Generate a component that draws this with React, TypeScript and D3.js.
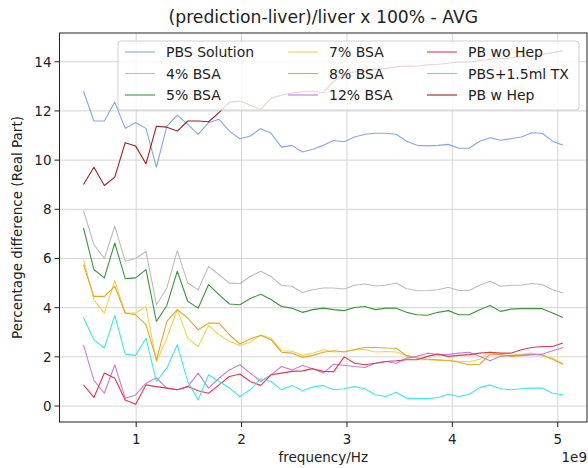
import React from 'react'
import * as d3 from 'd3'

// frequency in units of 1e9 Hz
const freqs = [
  0.5, 0.599, 0.698, 0.797, 0.896, 0.995, 1.093, 1.192, 1.291, 1.39, 1.489, 1.588,
  1.687, 1.786, 1.885, 1.984, 2.083, 2.182, 2.28, 2.379, 2.478, 2.577, 2.676, 2.775,
  2.874, 2.973, 3.072, 3.171, 3.27, 3.368, 3.467, 3.566, 3.665, 3.764, 3.863, 3.962,
  4.061, 4.16, 4.259, 4.358, 4.457, 4.555, 4.654, 4.753, 4.852, 4.951, 5.05,
]

const pbsSolution = [
  12.81, 11.59, 11.59, 12.36, 11.29, 11.53, 11.29, 9.71, 11.38, 11.83, 11.45, 11.05,
  11.52, 11.66, 11.18, 10.87, 10.98, 11.28, 11.09, 10.53, 10.6, 10.33, 10.44, 10.6,
  10.8, 10.75, 10.94, 11.05, 11.09, 11.09, 11.05, 10.77, 10.6, 10.58, 10.6, 10.64,
  10.48, 10.48, 10.77, 10.91, 10.81, 10.87, 10.94, 11.11, 11.09, 10.77, 10.6,
]
const bsa4 = [
  7.95, 6.57, 6.0, 7.31, 5.89, 6.0, 6.29, 4.12, 4.8, 6.32, 5.0, 4.73,
  5.68, 5.34, 5.0, 4.98, 5.27, 5.48, 5.27, 4.9, 4.87, 4.62, 4.73, 4.8,
  4.8, 4.76, 4.91, 4.96, 4.88, 4.91, 5.0, 4.77, 4.69, 4.7, 4.73, 4.83,
  4.7, 4.7, 4.91, 5.07, 4.87, 4.91, 4.91, 4.98, 4.94, 4.73, 4.6,
]
const bsa5 = [
  7.24, 5.55, 5.21, 6.63, 5.18, 5.21, 5.55, 3.44, 4.09, 5.48, 4.26, 3.98,
  4.94, 4.53, 4.15, 4.12, 4.37, 4.55, 4.33, 4.05, 3.98, 3.81, 3.92, 3.98,
  3.92, 3.88, 4.01, 4.05, 3.92, 3.98, 3.98, 3.81, 3.71, 3.69, 3.81, 3.88,
  3.71, 3.71, 3.92, 4.09, 3.85, 3.94, 3.96, 3.96, 3.96, 3.78, 3.6,
]
const bsa7 = [
  5.95, 4.32, 3.78, 5.1, 3.78, 3.78, 4.05, 1.81, 2.76, 3.92, 2.76, 2.42,
  3.28, 2.9, 2.63, 2.46, 2.6, 2.9, 2.76, 2.25, 2.23, 2.06, 2.15, 2.29,
  2.2, 2.22, 2.28, 2.3, 2.2, 2.22, 2.2, 2.05, 1.95, 1.88, 1.85, 1.85,
  1.82, 1.8, 1.9, 2.2, 2.08, 2.05, 2.1, 2.15, 2.05, 1.95, 1.72,
]
const bsa8 = [
  5.75, 4.46, 4.46, 4.87, 3.78, 3.71, 3.31, 1.88, 3.44, 3.92, 3.58, 3.1,
  3.37, 3.37, 2.9, 2.52, 2.74, 2.87, 2.7, 2.19, 2.15, 1.98, 2.06, 2.19,
  2.25, 2.2, 2.3, 2.38, 2.38, 2.36, 2.35, 2.05, 1.95, 1.9, 1.88, 1.85,
  1.78, 1.68, 1.7, 2.1, 2.1, 2.02, 2.05, 2.1, 2.08, 1.9, 1.7,
]
const bsa12 = [
  2.49, 1.04, 0.52, 1.68, 0.32, 0.45, 0.93, 1.15, 0.73, 0.66, 0.79, 1.34,
  0.73, 1.13, 1.47, 1.68, 1.34, 1.0, 1.27, 1.61, 1.47, 1.65, 1.52, 1.34,
  1.7, 1.66, 1.61, 1.57, 1.74, 1.81, 1.74, 1.95, 2.02, 2.15, 2.09, 2.1,
  2.15, 2.19, 2.02, 1.84, 2.02, 2.06, 2.06, 2.09, 2.11, 2.25, 2.38,
]
const pbWoHep = [
  0.86, 0.35, 1.34, 1.13, 0.25, 0.07, 0.86, 0.79, 0.73, 0.66, 0.79, 0.62,
  0.52, 0.86, 1.2, 1.3, 1.0, 0.84, 1.27, 1.34, 1.41, 1.43, 1.52, 1.41,
  1.4, 2.0, 1.74, 1.68, 1.74, 1.81, 1.84, 1.88, 1.88, 2.02, 2.11, 2.02,
  2.06, 2.09, 2.15, 2.19, 2.15, 2.15, 2.29, 2.38, 2.42, 2.42, 2.56,
]
const pbsTx = [
  3.6, 2.7, 2.36, 3.69, 2.11, 2.06, 2.76, 1.0, 1.54, 2.49, 1.0, 0.25,
  1.27, 1.0, 0.73, 0.39, 0.66, 1.11, 1.0, 0.66, 0.84, 0.62, 0.77, 0.84,
  0.66, 0.7, 0.79, 0.7, 0.46, 0.39, 0.56, 0.32, 0.3, 0.3, 0.35, 0.48,
  0.39, 0.48, 0.75, 0.86, 0.7, 0.66, 0.7, 0.73, 0.73, 0.52, 0.46,
]
const pbWHep = [
  9.01, 9.71, 8.97, 9.31, 10.71, 10.57, 9.85, 11.38, 11.34, 11.18, 11.59, 11.59,
  11.56, 11.93, 12.36, 12.4, 12.23, 12.06, 12.51, 12.65, 12.72, 12.78, 12.81, 12.74,
  13.2, 13.5, 13.58, 13.62, 13.7, 13.72, 13.8, 13.83, 13.82, 13.88, 13.9, 13.94,
  14.0, 13.98, 14.05, 14.1, 14.12, 14.15, 14.22, 14.25, 14.3, 14.37, 14.45,
]

const seriesNames = [
  'PBS Solution', '4% BSA', '5% BSA',
  '7% BSA', '8% BSA', '12% BSA',
  'PB wo Hep', 'PBS+1.5ml TX', 'PB w Hep',
]
const seriesValues = [pbsSolution, bsa4, bsa5, bsa7, bsa8, bsa12, pbWoHep, pbsTx, pbWHep]
const seriesColors = [
  '#86a6e6', '#bdbdbd', '#3d953d',
  '#f2d34a', '#e5a52a', '#c77fd3',
  '#e8354c', '#3ee8e8', '#9e1f1f',
]

const xTicks = [1, 2, 3, 4, 5]
const yTicks = [0, 2, 4, 6, 8, 10, 12, 14]

const W = 588
const H = 468
const margin = { left: 59.5, right: 587, top: 33, bottom: 422 }
const font = 'DejaVu Sans, sans-serif'

export default function App() {
  const xPad = (d3.max(freqs)! - d3.min(freqs)!) * 0.05
  const x = d3.scaleLinear()
    .domain([d3.min(freqs)! - xPad, d3.max(freqs)! + xPad])
    .range([margin.left, margin.right])

  const all = seriesValues.flat()
  const yPad = (d3.max(all)! - d3.min(all)!) * 0.05
  const y = d3.scaleLinear()
    .domain([d3.min(all)! - yPad, d3.max(all)! + yPad])
    .range([margin.bottom, margin.top])

  const line = d3.line<number>()
    .x((_, i) => x(freqs[i]))
    .y(d => y(d))

  // legend layout (3 columns, filled column-wise)
  const legX = 118, legY = 41, legW = 461, legH = 69
  const colX = [125, 288, 427]
  const rowY = [52, 73.5, 95]

  return (
    <svg width={W} height={H} style={{ position: 'absolute', left: 0, top: 0 }} fontFamily={font}>
      <rect x={0} y={0} width={W} height={H} fill="#fff" />

      {/* grid */}
      {xTicks.map(t => (
        <line key={'gx' + t} x1={x(t)} x2={x(t)} y1={margin.top} y2={margin.bottom} stroke="#d4d4d4" strokeWidth={1} />
      ))}
      {yTicks.map(t => (
        <line key={'gy' + t} x1={margin.left} x2={margin.right} y1={y(t)} y2={y(t)} stroke="#d4d4d4" strokeWidth={1} />
      ))}

      {/* series */}
      <g fill="none" strokeWidth={1.1} strokeLinejoin="round">
        {seriesValues.map((vals, i) => (
          <path key={seriesNames[i]} d={line(vals)!} stroke={seriesColors[i]} />
        ))}
      </g>

      {/* legend */}
      <rect x={legX} y={legY} width={legW} height={legH} rx={3} fill="#fff" fillOpacity={0.8} stroke="#d0d0d0" strokeWidth={1} />
      {seriesNames.map((name, i) => {
        const c = Math.floor(i / 3)
        const r = i % 3
        return (
          <g key={'leg' + name}>
            <line x1={colX[c]} x2={colX[c] + 30} y1={rowY[r]} y2={rowY[r]} stroke={seriesColors[i]} strokeWidth={1.1} />
            <text x={colX[c] + 41} y={rowY[r]} dy="0.36em" fontSize={14} fill="#222">{name}</text>
          </g>
        )
      })}

      {/* axes frame */}
      <rect x={margin.left} y={margin.top} width={margin.right - margin.left} height={margin.bottom - margin.top} fill="none" stroke="#222" strokeWidth={1} />

      {/* x ticks */}
      {xTicks.map(t => (
        <g key={'tx' + t}>
          <line x1={x(t)} x2={x(t)} y1={margin.bottom} y2={margin.bottom + 5} stroke="#222" />
          <text x={x(t)} y={margin.bottom + 17} dy="0.36em" textAnchor="middle" fontSize={13.5} fill="#222">{t}</text>
        </g>
      ))}
      <text x={margin.right} y={457} dy="0.36em" textAnchor="end" fontSize={13.5} fill="#222">1e9</text>

      {/* y ticks */}
      {yTicks.map(t => (
        <g key={'ty' + t}>
          <line x1={margin.left - 5} x2={margin.left} y1={y(t)} y2={y(t)} stroke="#222" />
          <text x={margin.left - 8} y={y(t)} dy="0.36em" textAnchor="end" fontSize={13.5} fill="#222">{t}</text>
        </g>
      ))}

      {/* labels */}
      <text x={(margin.left + margin.right) / 2} y={457} dy="0.36em" textAnchor="middle" fontSize={13.5} fill="#222">frequency/Hz</text>
      <text transform={`translate(17, ${(margin.top + margin.bottom) / 2}) rotate(-90)`} dy="0.36em" textAnchor="middle" fontSize={13.5} fill="#222">Percentage difference (Real Part)</text>
      <text x={(margin.left + margin.right) / 2} y={17} dy="0.36em" textAnchor="middle" fontSize={17.2} fill="#222">(prediction-liver)/liver x 100% - AVG</text>
    </svg>
  )
}
